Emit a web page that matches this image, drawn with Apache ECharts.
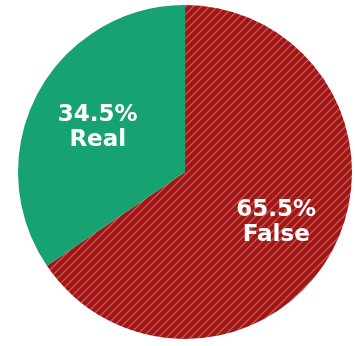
<!DOCTYPE html>
<html>
<head>
<meta charset="utf-8">
<script src="https://cdn.jsdelivr.net/npm/echarts@6/dist/echarts.min.js"></script>
<style>
  html, body { margin: 0; padding: 0; background: #ffffff; }
  #chart { width: 355px; height: 346px; }
</style>
</head>
<body>
<div id="chart"></div>
<script>
// Share of items by verdict
const categories = ['False', 'Real'];
const shares = [65.5, 34.5];

// Diagonal hatch tile for the "False" slice
function hatchTile() {
  const s = 8;
  const c = document.createElement('canvas');
  c.width = s; c.height = s;
  const g = c.getContext('2d');
  g.fillStyle = '#a01515';
  g.fillRect(0, 0, s, s);
  g.strokeStyle = '#c65750';
  g.lineWidth = 1.4;
  g.beginPath();
  g.moveTo(-1, s + 1); g.lineTo(s + 1, -1);
  g.moveTo(-1, 1); g.lineTo(1, -1);
  g.moveTo(s - 1, s + 1); g.lineTo(s + 1, s - 1);
  g.stroke();
  return c;
}

const fills = [{ image: hatchTile(), repeat: 'repeat' }, '#17a272'];

const slices = categories.map((name, i) => ({
  name, value: shares[i], itemStyle: { color: fills[i] }
}));

const chart = echarts.init(document.getElementById('chart'), null, { renderer: 'canvas' });
chart.setOption({
  animation: false,
  series: [
    {
      type: 'pie',
      center: [185, 172],
      radius: [0, 167],
      startAngle: 90,
      clockwise: true,
      silent: true,
      label: { show: false },
      labelLine: { show: false },
      data: slices
    },
    {
      // Transparent overlay that places the labels further out in each slice
      type: 'pie',
      center: [187, 175],
      radius: [0, 196],
      startAngle: 90,
      clockwise: true,
      silent: true,
      itemStyle: { color: 'rgba(0,0,0,0)' },
      label: {
        show: true,
        position: 'inside',
        color: '#ffffff',
        fontFamily: 'DejaVu Sans',
        fontWeight: 'bold',
        fontSize: 23,
        lineHeight: 25,
        formatter: p => p.value.toFixed(1) + '%\n' + p.name
      },
      labelLine: { show: false },
      data: categories.map((name, i) => ({ name, value: shares[i] }))
    }
  ]
});
</script>
</body>
</html>
